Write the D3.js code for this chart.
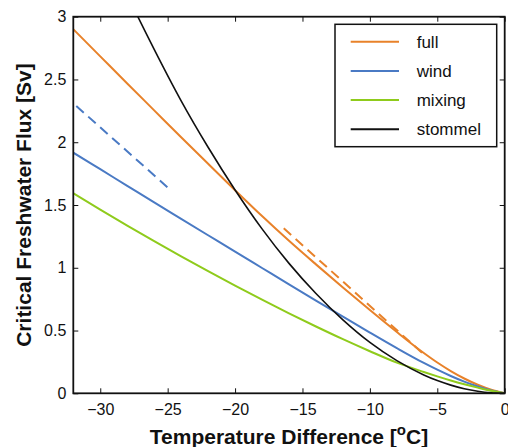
<!DOCTYPE html>
<html lang="en">
<head>
  <meta charset="UTF-8">
  <title>Critical Freshwater Flux</title>
  <style>
    body { margin: 0; background: #fff; }
    svg { display: block; font-family: "Liberation Sans", Arial, Helvetica, sans-serif; }
  </style>
</head>
<body>
<script src="https://d3js.org/d3.v7.min.js"></script>
<div id="chart"></div>
<script>
  // temperature difference [oC], shared by all curves
  const tempDiff = [-32, -30, -28, -26, -24, -22, -20, -18, -16, -14, -12, -10, -8, -6, -5, -4, -3, -2, -1, 0];
  // critical freshwater flux [Sv]
  const fullFlux    = [2.90, 2.684, 2.468, 2.254, 2.040, 1.828, 1.618, 1.412, 1.215, 1.027, 0.843, 0.663, 0.488, 0.321, 0.245, 0.177, 0.118, 0.068, 0.028, 0];
  const windFlux    = [1.917, 1.785, 1.653, 1.521, 1.39, 1.259, 1.128, 0.998, 0.868, 0.739, 0.611, 0.484, 0.36, 0.242, 0.188, 0.138, 0.093, 0.054, 0.022, 0];
  const mixingFlux  = [1.593, 1.463, 1.336, 1.212, 1.091, 0.973, 0.858, 0.746, 0.637, 0.532, 0.431, 0.335, 0.244, 0.17, 0.135, 0.102, 0.072, 0.045, 0.02, 0];
  const stommelFlux = [4.15, 3.645, 3.175, 2.74, 2.33, 1.96, 1.62, 1.31, 1.035, 0.795, 0.585, 0.405, 0.26, 0.146, 0.101, 0.065, 0.036, 0.016, 0.004, 0];

  // dashed approximations
  const windDashX = [-32, -25];
  const windDashY = [2.31, 1.64];
  const fullDashX = [-16.5, -5.9];
  const fullDashY = [1.325, 0.30];

  const xTicks = [-30, -25, -20, -15, -10, -5, 0];
  const yTicks = [0, 0.5, 1, 1.5, 2, 2.5, 3];
  const yTickLabels = ["0", "0.5", "1", "1.5", "2", "2.5", "3"];

  const seriesNames = ["full", "wind", "mixing", "stommel"];
  const colors = { full: "#e8822a", wind: "#4a7ac4", mixing: "#8fcb1c", stommel: "#111111" };

  const width = 508, height = 447;
  const margin = { top: 16.7, right: 3.3, bottom: 53.7, left: 73.3 };
  const w = width - margin.left - margin.right;
  const h = height - margin.top - margin.bottom;

  const svg = d3.select("#chart").append("svg")
    .attr("width", width)
    .attr("height", height);

  const x = d3.scaleLinear().domain([-32, 0]).range([0, w]);
  const y = d3.scaleLinear().domain([0, 3]).range([h, 0]);

  const g = svg.append("g").attr("transform", `translate(${margin.left},${margin.top})`);

  svg.append("defs").append("clipPath").attr("id", "plot-clip")
    .append("rect").attr("width", w).attr("height", h);

  const minus = s => s.replace("-", "\u2212");

  // axes, ticks pointing inward
  const tickLen = 5;
  g.append("g").attr("transform", `translate(0,${h})`)
    .call(d3.axisBottom(x).tickValues(xTicks).tickSizeInner(-tickLen).tickSizeOuter(0).tickPadding(10)
      .tickFormat(d => minus(String(d))));
  g.append("g").call(d3.axisTop(x).tickValues(xTicks).tickSizeInner(-tickLen).tickSizeOuter(0).tickFormat(""));
  g.append("g")
    .call(d3.axisLeft(y).tickValues(yTicks).tickSizeInner(-tickLen).tickSizeOuter(0).tickPadding(7)
      .tickFormat((d, i) => yTickLabels[i]));
  g.append("g").attr("transform", `translate(${w},0)`)
    .call(d3.axisRight(y).tickValues(yTicks).tickSizeInner(-tickLen).tickSizeOuter(0).tickFormat(""));

  g.selectAll(".domain").remove();
  g.selectAll(".tick line").attr("stroke", "#111").attr("stroke-width", 1);
  g.selectAll(".tick text").attr("font-size", 16).attr("fill", "#111")
    .attr("font-family", "'Liberation Sans', Arial, sans-serif");

  const line = d3.line()
    .x(d => x(d[0]))
    .y(d => y(d[1]))
    .curve(d3.curveMonotoneX);

  const plot = g.append("g").attr("clip-path", "url(#plot-clip)");

  const series = {
    full: fullFlux,
    wind: windFlux,
    mixing: mixingFlux,
    stommel: stommelFlux
  };

  plot.append("path")
    .datum(d3.zip(windDashX, windDashY))
    .attr("fill", "none")
    .attr("stroke", colors.wind)
    .attr("stroke-width", 2)
    .attr("stroke-dasharray", "10,6")
    .attr("stroke-dashoffset", 12)
    .attr("d", d3.line().x(d => x(d[0])).y(d => y(d[1])));

  plot.append("path")
    .datum(d3.zip(fullDashX, fullDashY))
    .attr("fill", "none")
    .attr("stroke", colors.full)
    .attr("stroke-width", 2)
    .attr("stroke-dasharray", "10,6")
    .attr("stroke-dashoffset", 14)
    .attr("d", d3.line().x(d => x(d[0])).y(d => y(d[1])));

  seriesNames.forEach(name => {
    plot.append("path")
      .datum(d3.zip(tempDiff, series[name]))
      .attr("fill", "none")
      .attr("stroke", colors[name])
      .attr("stroke-width", name === "stommel" ? 1.6 : 2)
      .attr("d", line);
  });

  // box
  g.append("rect")
    .attr("width", w).attr("height", h)
    .attr("fill", "none").attr("stroke", "#111").attr("stroke-width", 1.8);

  // legend
  const legend = svg.append("g");
  legend.append("rect")
    .attr("x", 335).attr("y", 24.3).attr("width", 161.7).attr("height", 122.4)
    .attr("fill", "#fff").attr("stroke", "#111").attr("stroke-width", 1.5);
  seriesNames.forEach((name, i) => {
    const ly = 41.7 + i * 29.2;
    legend.append("line")
      .attr("x1", 350.7).attr("x2", 399).attr("y1", ly).attr("y2", ly)
      .attr("stroke", colors[name]).attr("stroke-width", 2);
    legend.append("text")
      .attr("x", 416.7).attr("y", ly + 6)
      .attr("font-size", 17).attr("fill", "#111")
      .text(name);
  });

  // axis titles
  const xLabel = svg.append("text")
    .attr("x", margin.left + w / 2).attr("y", 444)
    .attr("text-anchor", "middle")
    .attr("font-size", 21).attr("font-weight", "bold").attr("fill", "#111");
  xLabel.append("tspan").text("Temperature Difference [");
  xLabel.append("tspan").attr("dy", -9).attr("font-size", 15).text("o");
  xLabel.append("tspan").attr("dy", 9).text("C]");

  svg.append("text")
    .attr("transform", `translate(31,${margin.top + h / 2}) rotate(-90)`)
    .attr("text-anchor", "middle")
    .attr("font-size", 21).attr("font-weight", "bold").attr("fill", "#111")
    .text("Critical Freshwater Flux [Sv]");
</script>
</body>
</html>
